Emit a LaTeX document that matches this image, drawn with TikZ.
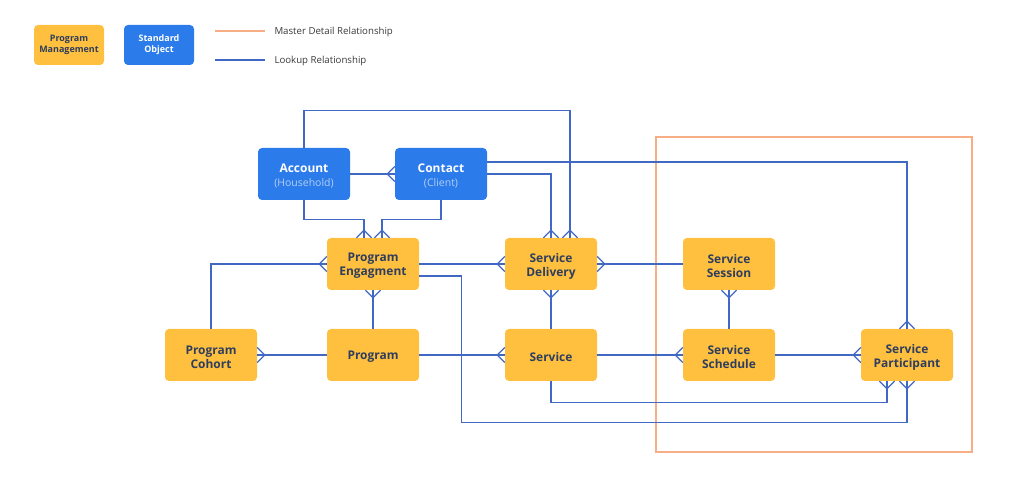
\documentclass[tikz,border=0pt]{standalone}
\usepackage{fontspec}
\setmainfont{Open Sans}
\usepackage{tikz}
\usetikzlibrary{arrows,shapes}
\definecolor{pmyellow}{HTML}{FEC03E}
\definecolor{soblue}{HTML}{2B7BEA}
\definecolor{navy}{HTML}{2F3D5E}
\definecolor{subblue}{HTML}{B3CFF6}
\definecolor{lkline}{HTML}{4169C4}
\definecolor{mdline}{HTML}{F8AE85}
\definecolor{legtext}{HTML}{3A3A3A}
\newcommand{\dn}[1]{\raisebox{-2bp}[\height][\depth]{#1}}
\newcommand{\twoline}[2]{\dn{#1}\\\dn{#2}}
\newcommand{\tobj}[2]{\dn{#1}\\{\fontsize{10.5}{14}\selectfont\mdseries\color{subblue}\dn{#2}}}
% many-side of a relation
\pgfdeclarearrow{
  name = crow,
  setup code = {
    \pgfarrowssettipend{0pt}
    \pgfarrowssetlineend{0pt}
    \pgfarrowssetbackend{-7.5pt}
    \pgfarrowssetvisualbackend{-7.5pt}
    \pgfarrowshullpoint{0pt}{7.5pt}
    \pgfarrowshullpoint{0pt}{-7.5pt}
    \pgfarrowshullpoint{-7.5pt}{0pt}
  },
  drawing code = {
    \pgfpathmoveto{\pgfqpoint{0pt}{7.5pt}}
    \pgfpathlineto{\pgfqpoint{-7.5pt}{0pt}}
    \pgfpathlineto{\pgfqpoint{0pt}{-7.5pt}}
    \pgfusepathqstroke
  }
}

\begin{document}
\begin{tikzpicture}[>=crow]
      \tikzstyle{every node}=[font=\fontsize{12}{14}\selectfont\bfseries]
      \tikzstyle{pmbox}=[draw=none,fill=pmyellow,text=navy,rounded corners=4bp,minimum width=92bp,minimum height=52bp,align=center]
      \tikzstyle{sobox}=[pmbox,fill=soblue,text=white]
      \tikzstyle{lookup}=[draw=lkline,line width=1.2bp]
      \tikzstyle{legnode}=[font=\fontsize{9}{11}\selectfont\bfseries,minimum width=70bp,minimum height=40bp]
      \tikzstyle{legtxt}=[anchor=west,text=legtext,font=\fontsize{9.7}{11}\selectfont]
      %%
  \useasboundingbox (0bp,0bp) rectangle (1024bp,482bp);
  \draw [draw=mdline,line width=1.2bp] (656bp,30bp) rectangle (972bp,345bp);
%
  \node (v_legpm) at (69bp,437bp) [pmbox,legnode] {Program\\Management};
  \node (v_legso) at (159bp,437bp) [sobox,legnode] {Standard\\Object};
  \coordinate (v_legmd) at (215bp,451bp);
  \coordinate (v_leglk) at (215bp,422bp);
  \node (v_legmdtxt) at (271bp,450bp) [legtxt] {Master Detail Relationship};
  \node (v_leglktxt) at (271bp,421bp) [legtxt] {Lookup Relationship};
  \draw [draw=mdline,line width=1.5bp] (v_legmd) -- ++(50bp,0bp);
  \draw [draw=lkline,line width=1.5bp] (v_leglk) -- ++(50bp,0bp);
%
  \node (v_account) at (304bp,308bp) [sobox] {\tobj{Account}{(Household)}};
  \node (v_contact) at (441bp,308bp) [sobox] {\tobj{Contact}{(Client)}};
  \node (v_engage) at (373bp,218bp) [pmbox] {\twoline{Program}{Engagment}};
  \node (v_delivery) at (551bp,218bp) [pmbox] {\twoline{Service}{Delivery}};
  \node (v_session) at (729bp,218bp) [pmbox] {\twoline{Service}{Session}};
  \node (v_cohort) at (211bp,127bp) [pmbox] {\twoline{Program}{Cohort}};
  \node (v_program) at (373bp,127bp) [pmbox] {\dn{Program}};
  \node (v_service) at (551bp,127bp) [pmbox] {\dn{Service}};
  \node (v_schedule) at (729bp,127bp) [pmbox] {\twoline{Service}{Schedule}};
  \node (v_particip) at (907bp,127bp) [pmbox] {\twoline{Service}{Participant}};
%
  \draw [lookup,->] (v_account.north) -- ++(0bp,37bp) -| ([xshift=19bp]v_delivery.north);
  \draw [lookup,->] (v_account) -- (v_contact);
  \draw [lookup,->] (v_account.south) -- ++(0bp,-19bp) -| ([xshift=-9bp]v_engage.north);
  \draw [lookup,->] (v_contact.south) -- ++(0bp,-19bp) -| ([xshift=9bp]v_engage.north);
  \draw [lookup,->] ([yshift=12bp]v_contact.east) -| (v_particip.north);
  \draw [lookup,->] (v_contact.east) -| (v_delivery.north);
  \draw [lookup,<-] (v_engage.west) -| (v_cohort.north);
  \draw [lookup,->] (v_engage) -- (v_delivery);
  \draw [lookup,->] ([yshift=-12bp]v_engage.east) -- ++(42bp,0bp) |- ([yshift=-41bp]v_particip.south) -- (v_particip.south);
  \draw [lookup,<-] (v_engage) -- (v_program);
  \draw [lookup,->] (v_program) -- (v_cohort);
  \draw [lookup,->] (v_program) -- (v_service);
  \draw [lookup,<-] (v_delivery) -- (v_service);
  \draw [lookup,<-] (v_delivery) -- (v_session);
  \draw [lookup,->] (v_service) -- (v_schedule);
  \draw [lookup,->] (v_service.south) -- ++(0bp,-21bp) -| ([xshift=-20bp]v_particip.south);
  \draw [lookup,<-] (v_session) -- (v_schedule);
  \draw [lookup,->] (v_schedule) -- (v_particip);
%

    \end{tikzpicture}
\end{document}
